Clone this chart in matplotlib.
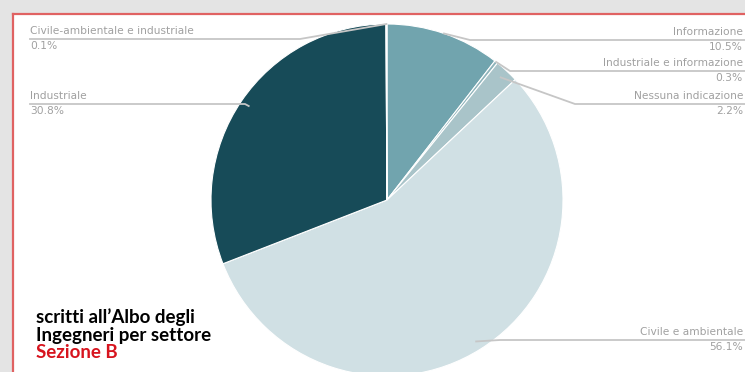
import numpy as np
import matplotlib
matplotlib.use("Agg")
import matplotlib.pyplot as plt
from matplotlib.patches import Rectangle

# quote per settore, in senso orario dalle ore 12
settori = ["Informazione", "Industriale e informazione", "Nessuna indicazione",
           "Civile e ambientale", "Industriale", "Civile-ambientale e industriale"]
quote = [10.5, 0.3, 2.2, 56.1, 30.8, 0.1]
etichette = ["10.5%", "0.3%", "2.2%", "56.1%", "30.8%", "0.1%"]
colori = ["#71a4ae", "#8fb4bb", "#a9c4c9", "#d0e0e4", "#174b58", "#174b58"]

W, H = 745, 372
fig = plt.figure(figsize=(W / 100, H / 100), dpi=100, facecolor="#e4e4e4")
ax = fig.add_axes([0, 0, 1, 1])
ax.set_facecolor("#e4e4e4")

# pannello bianco con bordo rosso in alto e a sinistra
ax.add_patch(Rectangle((13, 0), W - 13, H - 14, facecolor="white", edgecolor="none", zorder=0))
ax.plot([13, W], [H - 14, H - 14], color="#e06262", lw=1.6, zorder=1)
ax.plot([13, 13], [0, H - 14], color="#e06262", lw=1.6, zorder=1)

cx, cy, R = 387, H - 200, 176
wedges, _ = ax.pie(quote, colors=colori, startangle=90, counterclock=False,
                   center=(cx, cy), radius=R, frame=True,
                   wedgeprops=dict(edgecolor="white", linewidth=0.8))

# posizione testo: lato, y della riga guida, gomito della riga, raggio di aggancio
layout = [
    ("right", 40, 470, 1.0),
    ("right", 71, 510, 1.0),
    ("right", 104, 575, 0.95),
    ("right", 340, 500, 0.95),
    ("left", 104, 245, 0.95),
    ("left", 39, 300, 1.0),
]

grigio_testo = "#a0a0a0"
grigio_riga = "#c6c6c6"
for w, nome, lab, (lato, yl, xg, rf) in zip(wedges, settori, etichette, layout):
    ang = np.deg2rad((w.theta1 + w.theta2) / 2)
    ax_, ay_ = cx + rf * R * np.cos(ang), cy + rf * R * np.sin(ang)
    y = H - yl
    if lato == "right":
        xs, ha = W - 2, "right"
        ax.plot([W, xg, ax_], [y, y, ay_], color=grigio_riga, lw=1.3, zorder=3)
    else:
        xs, ha = 30, "left"
        ax.plot([30, xg, ax_], [y, y, ay_], color=grigio_riga, lw=1.3, zorder=3)
    ax.text(xs, y + 3, nome, ha=ha, va="bottom", fontsize=7.7, color=grigio_testo)
    ax.text(xs, y - 2, lab, ha=ha, va="top", fontsize=7.7, color=grigio_testo)

# titolo in basso a sinistra
font_titolo = dict(fontsize=13.5, fontweight="bold",
                   family=["Lato", "DejaVu Sans"], va="center")
ax.text(36, H - 317, "scritti all\u2019Albo degli", color="black", **font_titolo)
ax.text(36, H - 335, "Ingegneri per settore", color="black", **font_titolo)
ax.text(36, H - 353, "Sezione B", color="#d7141e", **font_titolo)

ax.set_xlim(0, W)
ax.set_ylim(0, H)
ax.set_aspect("equal")
ax.axis("off")
fig.savefig("out.png", dpi=100, facecolor=fig.get_facecolor())
